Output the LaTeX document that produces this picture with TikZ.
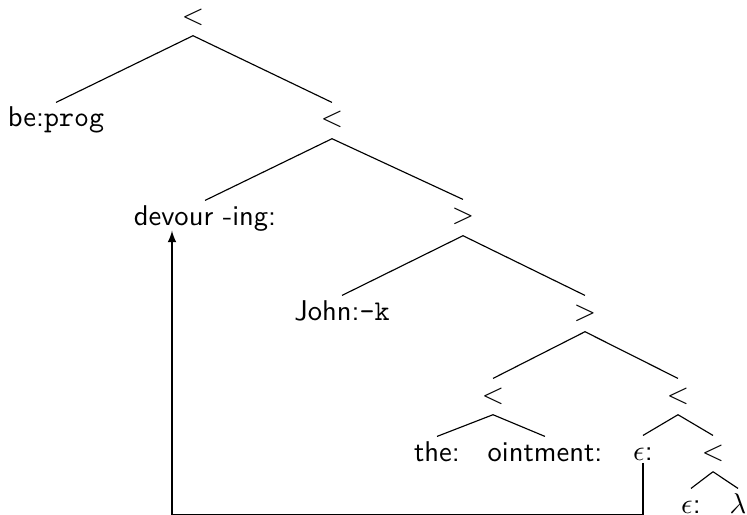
\documentclass[tikz,border=0pt]{standalone}
\usepackage{tikz}
\usetikzlibrary{arrows}

\begin{document}
\begin{tikzpicture}[x=0.35pt, y=-0.35pt,
    every node/.style={font=\sffamily, anchor=base, inner sep=1.5pt, text height=6.9pt, text depth=2.4pt}]
    \useasboundingbox (0,0) rectangle (747,515);

    % Level 0
    \node (root) at (193,24) {$<$};
    % Level 1
    \node (beprog) at (56,127) {be:\texttt{prog}};
    \node (lt2) at (332,127) {$<$};
    % Level 2
    \node (devour) at (205,225) {devour -ing:};
    \node (gt1) at (463,224) {$>$};
    % Level 3
    \node (john) at (342,320) {John:\texttt{-k}};
    \node (gt2) at (585,320) {$>$};
    % Level 4
    \node (lt3) at (493,403) {$<$};
    \node (lt4) at (678,403) {$<$};
    % Level 5
    \node (the) at (437,461) {the:};
    \node (ointment) at (545,461) {ointment:};
    \node (eps1) at (643,460) {$\epsilon$:};
    \node (lt5) at (713,460) {$<$};
    % Level 6
    \node (eps2) at (691,513) {$\epsilon$:};
    \node (lambda) at (738,513) {$\lambda$};

    % Tree edges
    \foreach \p/\c in {root/beprog, root/lt2, lt2/devour, lt2/gt1, gt1/john, gt1/gt2,
        gt2/lt3, gt2/lt4, lt3/the, lt3/ointment, lt4/eps1, lt4/lt5, lt5/eps2, lt5/lambda} {
        \draw (\p.south) -- (\c.north);
    }

    % Movement arrow
    \coordinate (bottom) at (0,512);
    \draw[-latex] ([yshift=-1pt]eps1.base) -- ([yshift=-1pt]eps1.base |- bottom)
        -| ([xshift=-33*0.35pt, yshift=-2pt]devour.base);
\end{tikzpicture}
\end{document}
